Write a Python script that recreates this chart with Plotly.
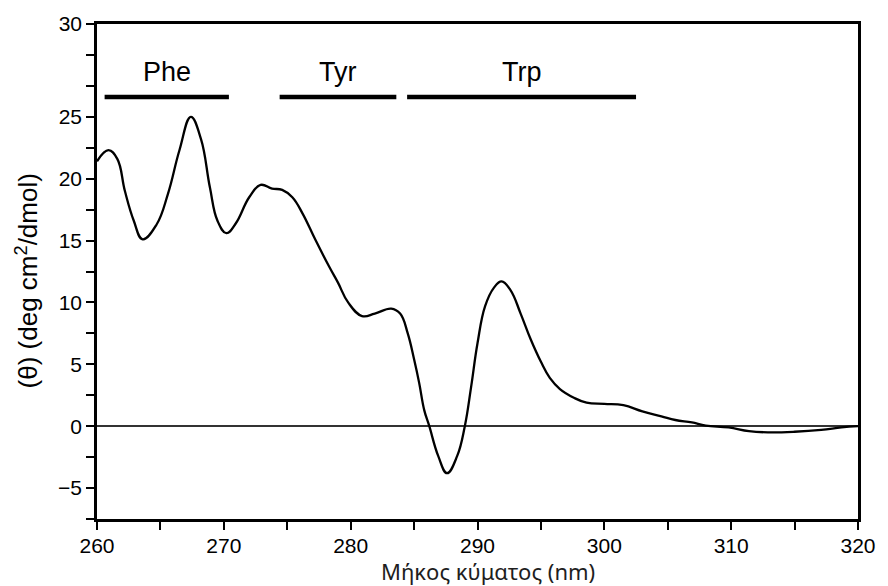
import plotly.graph_objects as go

# Wavelength (nm) and ellipticity values
wavelength = [260.0, 260.9, 261.6, 262.2, 262.9, 263.6, 264.7, 265.6, 266.5, 267.4,
              268.2, 268.9, 269.5, 270.2, 270.95, 272.0, 272.9, 273.8, 274.6, 275.4,
              276.2, 277.2, 278.3, 279.0, 279.8, 280.9, 281.9, 283.2, 283.9, 284.5,
              285.0, 285.4, 285.8, 286.2, 286.9, 287.6, 288.4, 289.0, 289.5, 290.0,
              290.6, 291.3, 291.9, 292.6, 293.4, 294.2, 295.0, 295.7, 296.5, 297.6,
              298.6, 300.0, 301.5, 303.0, 304.5, 305.6, 306.9, 308.0, 309.8, 311.4,
              312.9, 315.0, 317.1, 318.7, 320.0]
theta = [21.4, 22.3, 21.6, 19.0, 16.6, 15.1, 16.3, 18.8, 22.3, 25.0,
         23.2, 19.3, 16.6, 15.6, 16.4, 18.5, 19.5, 19.2, 19.1, 18.5,
         17.2, 15.1, 12.9, 11.6, 10.0, 8.9, 9.1, 9.5, 9.1, 7.5,
         5.4, 3.5, 1.3, 0.0, -2.4, -3.8, -2.4, 0.0, 3.2, 6.7,
         9.7, 11.2, 11.7, 11.0, 9.1, 7.0, 5.2, 3.9, 3.0, 2.3,
         1.9, 1.8, 1.7, 1.2, 0.8, 0.5, 0.3, 0.05, -0.1, -0.4,
         -0.5, -0.45, -0.3, -0.1, 0.0]

# Absorption bands
band_names = ["Phe", "Tyr", "Trp"]
band_start = [260.6, 274.4, 284.45]
band_end = [270.4, 283.6, 302.5]
band_level = 26.6
label_level = 28.6

# Axis ticks
x_tickvals = [260, 270, 280, 290, 300, 310, 320]
x_ticktext = ["260", "270", "280", "290", "300", "310", "320"]
y_tickvals = [-5, 0, 5, 10, 15, 20, 25, 32.5]
y_ticktext = ["\u22125", "0", "5", "10", "15", "20", "25", "30"]

x_title = "Μήκος κύματος (nm)"
y_title = "(θ) (deg cm<sup>2</sup>/dmol)"

fig = go.Figure()
fig.add_trace(go.Scatter(x=wavelength, y=theta, mode="lines",
                         line=dict(color="black", width=2.3, shape="spline", smoothing=1.2),
                         showlegend=False, hoverinfo="skip"))

for name, s, e in zip(band_names, band_start, band_end):
    fig.add_shape(type="line", xref="x", yref="y", x0=s, x1=e, y0=band_level, y1=band_level,
                  line=dict(color="black", width=4.5))
    fig.add_annotation(x=(s + e) / 2, y=label_level, xref="x", yref="y", text=name,
                       showarrow=False, font=dict(family="Arial, Liberation Sans", size=27, color="black"))

fig.add_annotation(xref="paper", yref="paper", x=0.514, y=-0.106, xanchor="center", yanchor="middle",
                   text=x_title, showarrow=False, borderpad=0,
                   font=dict(family="Noto Sans, Open Sans", size=22, color="#1e1e1e"))
fig.add_annotation(xref="paper", yref="paper", x=-0.092, y=0.482, xanchor="center", yanchor="middle",
                   text=y_title, showarrow=False, textangle=-90,
                   font=dict(family="Arial, Liberation Sans", size=26, color="black"))

axis_font = dict(family="Arial, Liberation Sans", size=21, color="black")
tick_common = dict(ticks="outside", ticklen=8, tickwidth=2, tickcolor="black")
fig.update_layout(
    width=888, height=586,
    margin=dict(l=97, r=25, t=23, b=67),
    plot_bgcolor="white", paper_bgcolor="white",
    xaxis=dict(range=[260, 320], tickmode="array", tickvals=x_tickvals, ticktext=x_ticktext,
               minor=dict(dtick=5, tick0=260, ticks="outside", ticklen=8, tickwidth=2,
                          tickcolor="black", showgrid=False),
               showline=True, linecolor="black", linewidth=2.5, mirror=True, ticklabelstandoff=-2,
               showgrid=False, zeroline=False, tickfont=axis_font, **tick_common),
    yaxis=dict(range=[-7.5, 32.5], tickmode="array", tickvals=y_tickvals, ticktext=y_ticktext,
               minor=dict(dtick=2.5, tick0=0, ticks="outside", ticklen=8, tickwidth=2,
                          tickcolor="black", showgrid=False),
               showline=True, linecolor="black", linewidth=2.5, mirror=True,
               showgrid=False, zeroline=True, zerolinecolor="#333333", zerolinewidth=1.5,
               tickfont=axis_font, **tick_common),
)

fig.write_html("out.html")
